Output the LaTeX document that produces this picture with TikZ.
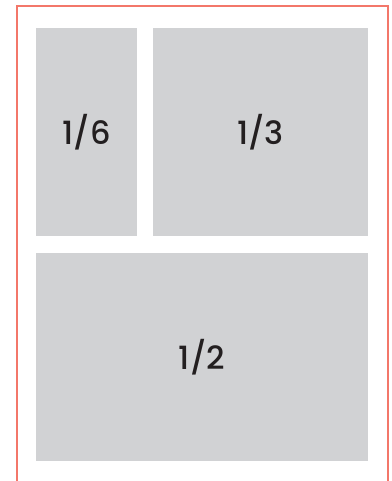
\documentclass[tikz,border=0pt]{standalone}
\usepackage{fontspec}
\setmainfont{Poppins}
\newfontfamily\panelfont{Poppins Medium}
\usepackage{xcolor}
\usepackage{tikz}
\usetikzlibrary{positioning}
\definecolor{panelgray}{HTML}{D1D2D4}
\definecolor{framered}{HTML}{F3776A}
\definecolor{labeltext}{HTML}{231F20}
\tikzstyle{frame} = [line width=1.5pt, draw=framered]

\begin{document}
\begin{tikzpicture}[
    x=1pt, y=-1pt,
    panel/.style={rectangle, fill=panelgray, inner sep=0pt, outer sep=0pt, minimum height=208pt, align=center, text=labeltext, font=\panelfont\fontsize{32}{38}\selectfont},
]
\useasboundingbox (0,0) rectangle (391,481);

% Frame
\draw [frame] (17,481) |- (388,6) -- (388,481);

% Panels
\node (sixth) [panel, minimum width=101pt, anchor=north west] at (36,28) {1/6};
\node (third) [panel, minimum width=215pt, right=16pt of sixth] {1/3};
\node (half) [panel, minimum width=332pt, below=17pt of sixth.south west, anchor=north west] {1/2};

\end{tikzpicture}
\end{document}
